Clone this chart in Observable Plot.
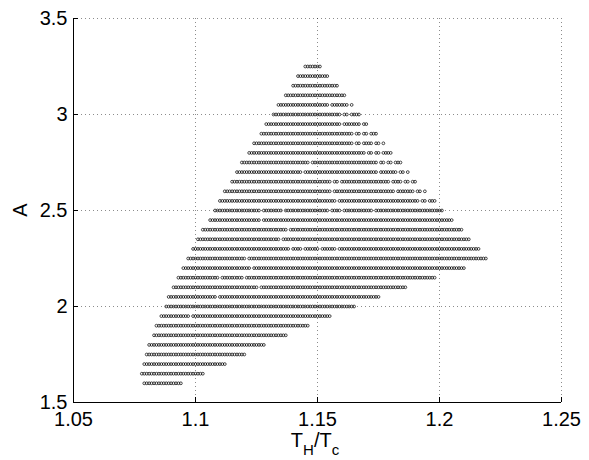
<!DOCTYPE html>
<html>
<head>
<meta charset="utf-8">
<script src="https://cdn.jsdelivr.net/npm/d3@7"></script>
<script src="https://cdn.jsdelivr.net/npm/@observablehq/plot@0.6"></script>
<style>
  body { margin: 0; background: #fff; }
  #chart svg { display: block; }
</style>
</head>
<body>
<div id="chart"></div>
<script>
// A values of each row of points (top to bottom)
const rowA = [3.25, 3.20, 3.15, 3.10, 3.05, 3.00, 2.95, 2.90, 2.85, 2.80,
              2.75, 2.70, 2.65, 2.60, 2.55, 2.50, 2.45, 2.40, 2.35, 2.30,
              2.25, 2.20, 2.15, 2.10, 2.05, 2.00, 1.95, 1.90, 1.85, 1.80,
              1.75, 1.70, 1.65, 1.60];

// runs of consecutive T_H/T_c points (grid 0.001) present in each row
const rowRuns = [
  [[1.145,1.151]],
  [[1.142,1.154]],
  [[1.140,1.158]],
  [[1.137,1.161]],
  [[1.134,1.154],[1.156,1.162],[1.164,1.164]],
  [[1.132,1.159],[1.161,1.162],[1.164,1.167]],
  [[1.129,1.159],[1.161,1.167],[1.169,1.170]],
  [[1.127,1.164],[1.166,1.167],[1.169,1.170],[1.172,1.174]],
  [[1.124,1.164],[1.166,1.167],[1.169,1.172],[1.174,1.175],[1.177,1.177]],
  [[1.122,1.169],[1.171,1.172],[1.174,1.175],[1.177,1.180]],
  [[1.119,1.146],[1.148,1.174],[1.176,1.177],[1.179,1.180],[1.182,1.184]],
  [[1.117,1.143],[1.145,1.174],[1.176,1.182],[1.184,1.185],[1.187,1.187]],
  [[1.115,1.155],[1.157,1.158],[1.160,1.179],[1.181,1.184],[1.186,1.187],[1.189,1.190]],
  [[1.112,1.155],[1.157,1.181],[1.183,1.189],[1.191,1.192],[1.194,1.194]],
  [[1.110,1.157],[1.159,1.191],[1.193,1.194],[1.196,1.198]],
  [[1.108,1.126],[1.128,1.135],[1.137,1.154],[1.156,1.159],[1.161,1.172],[1.174,1.201]],
  [[1.106,1.126],[1.128,1.205]],
  [[1.103,1.137],[1.139,1.209]],
  [[1.101,1.134],[1.136,1.212]],
  [[1.099,1.138],[1.140,1.143],[1.145,1.150],[1.152,1.157],[1.159,1.216]],
  [[1.097,1.120],[1.122,1.219]],
  [[1.095,1.122],[1.124,1.210]],
  [[1.093,1.109],[1.111,1.119],[1.121,1.198]],
  [[1.091,1.125],[1.127,1.186]],
  [[1.089,1.108],[1.110,1.175]],
  [[1.088,1.165]],
  [[1.086,1.097],[1.099,1.155]],
  [[1.084,1.146]],
  [[1.083,1.137]],
  [[1.081,1.128]],
  [[1.080,1.120]],
  [[1.079,1.112]],
  [[1.078,1.103]],
  [[1.079,1.094]]
];

const xTicks = [1.05, 1.1, 1.15, 1.2, 1.25];
const xTickLabels = ["1.05", "1.1", "1.15", "1.2", "1.25"];
const yTicks = [1.5, 2, 2.5, 3, 3.5];
const yTickLabels = ["1.5", "2", "2.5", "3", "3.5"];

// expand runs into individual points
const points = [];
rowA.forEach((a, i) => {
  rowRuns[i].forEach(([s, e]) => {
    for (let k = Math.round(s * 1000); k <= Math.round(e * 1000); k++) {
      points.push({ x: k / 1000, y: a });
    }
  });
});

const font = "'Liberation Sans', Arial, Helvetica, sans-serif";
const gridStyle = { stroke: "#000", strokeOpacity: 0.45, strokeWidth: 1, strokeDasharray: "1,3" };

const chart = Plot.plot({
  width: 589,
  height: 460,
  marginLeft: 73,
  marginRight: 28,
  marginTop: 18,
  marginBottom: 58,
  style: { fontFamily: font, fontSize: "20px", color: "#000", background: "#fff" },
  x: { domain: [xTicks[0], xTicks[xTicks.length - 1]] },
  y: { domain: [yTicks[0], yTicks[yTicks.length - 1]] },
  marks: [
    Plot.gridX(xTicks, gridStyle),
    Plot.gridY(yTicks, gridStyle),
    Plot.dot(points, { x: "x", y: "y", r: 1.4, stroke: "#000", strokeWidth: 0.7, fill: "none" }),
    Plot.ruleX([xTicks[0]], { stroke: "#000", strokeWidth: 1 }),
    Plot.ruleY([yTicks[0]], { stroke: "#000", strokeWidth: 1 }),
    Plot.axisX(xTicks, { anchor: "bottom", tickSize: 5, dy: -5, tickFormat: () => "", label: null }),
    Plot.axisY(yTicks, { anchor: "left", tickSize: 5, dx: 5, tickFormat: () => "", label: null }),
    Plot.axisX(xTicks, { anchor: "bottom", tickSize: 0, tickPadding: 9, fontSize: 20,
      tickFormat: d => xTickLabels[xTicks.indexOf(d)], label: null }),
    Plot.axisY(yTicks, { anchor: "left", tickSize: 0, tickPadding: 6, fontSize: 20,
      tickFormat: d => yTickLabels[yTicks.indexOf(d)], label: null })
  ]
});

const svg = d3.select(chart);
// x axis title T_H/T_c
const xt = svg.append("text")
  .attr("x", 315).attr("y", 447)
  .attr("text-anchor", "middle")
  .attr("font-family", font).attr("font-size", 20).attr("fill", "#000");
xt.append("tspan").text("T");
xt.append("tspan").attr("font-size", 15).attr("dy", 8).text("H");
xt.append("tspan").attr("dy", -8).text("/T");
xt.append("tspan").attr("font-size", 15).attr("dy", 8).text("c");
// y axis title A
svg.append("text")
  .attr("transform", "translate(27,210) rotate(-90)")
  .attr("text-anchor", "middle")
  .attr("font-family", font).attr("font-size", 20).attr("fill", "#000")
  .text("A");

document.getElementById("chart").appendChild(chart);
</script>
</body>
</html>
